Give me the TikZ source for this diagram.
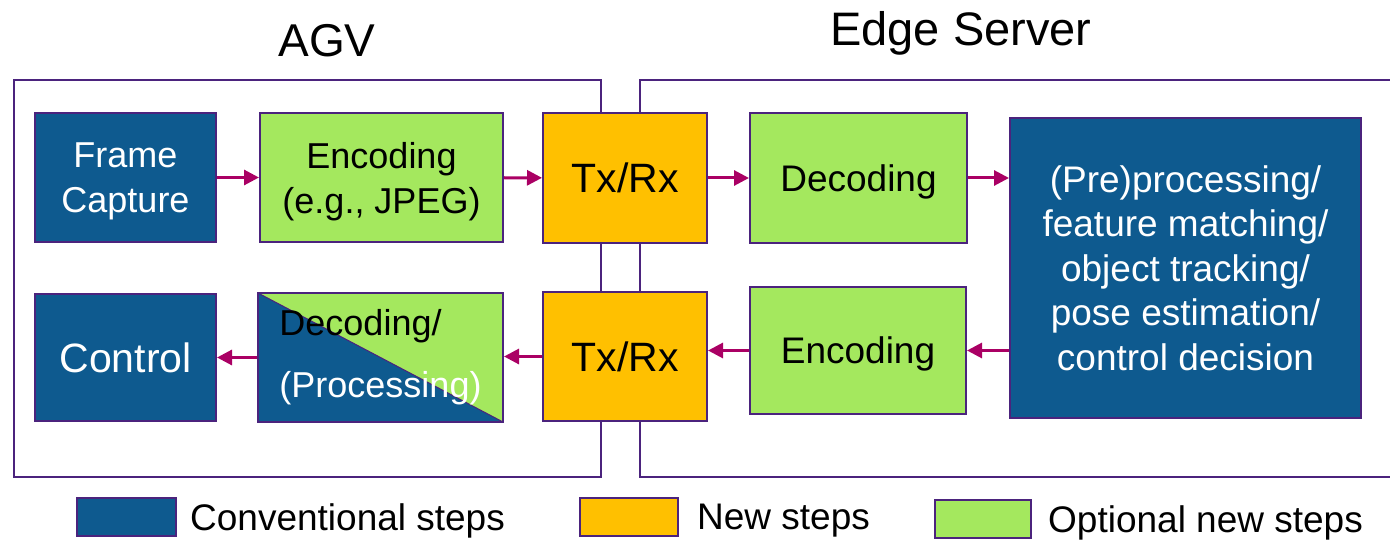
\documentclass[tikz,border=0pt]{standalone}
\usepackage{fontspec}
\setmainfont{Liberation Sans}
\usetikzlibrary{arrows.meta}
\definecolor{convblue}{RGB}{14,90,143}
\definecolor{newyellow}{RGB}{255,192,0}
\definecolor{optgreen}{RGB}{164,232,94}
\definecolor{linepurple}{RGB}{75,35,125}
\definecolor{flowred}{RGB}{170,0,100}
\tikzset{
zone/.style={draw=linepurple, line width=2pt},
stepbox/.style={draw=linepurple, line width=2pt, inner sep=0pt, align=center, text depth=0pt, font=\fontsize{36}{45}\selectfont},
convstep/.style={stepbox, fill=convblue, text=white},
newstep/.style={stepbox, fill=newyellow, text=black, font=\fontsize{41}{48}\selectfont},
optstep/.style={stepbox, fill=optgreen, text=black},
twolines/.style={text depth=-4pt},
boxsize/.style 2 args={minimum width=#1pt, minimum height=#2pt},
flow/.style={draw=flowred, line width=3pt, -{Triangle[length=15pt,width=15pt]}},
legtext/.style={anchor=west, inner sep=0pt, font=\fontsize{37}{44}\selectfont},
split/.style={path picture={
  \fill[convblue] (path picture bounding box.north west) -- (path picture bounding box.south west) -- (path picture bounding box.south east) -- cycle;
  \draw[linepurple, line width=1pt] (path picture bounding box.north west) -- (path picture bounding box.south east);}}
}

\begin{document}
\begin{tikzpicture}[x=1pt, y=-1pt]
\useasboundingbox (0,0) rectangle (1390,540);

\node[anchor=base, font=\fontsize{46}{55}\selectfont] (agvtitle) at (327,57) {AGV};
\node[anchor=base, font=\fontsize{47}{56}\selectfont] (edgetitle) at (961,46) {Edge Server};

\draw[zone] (14,80) rectangle (601,477);
\draw[zone] (1400,80) -- (640,80) -- (640,477) -- (1400,477);

\node[convstep, twolines, boxsize={181}{129}] (capture) at (125.5,177.5) {Frame\\Capture};
\node[optstep, twolines, boxsize={243}{129}] (encode) at (381.5,177.5) {Encoding\\(e.g., JPEG)};
\node[newstep, boxsize={164}{130}] (txrxup) at (625,178) {Tx/Rx};
\node[optstep, boxsize={217}{130}, font=\fontsize{37}{45}\selectfont] (decode) at (858.5,178) {Decoding};
\node[convstep, boxsize={351}{300}, font=\fontsize{37}{44.5}\selectfont] (process) at (1185.5,268) {(Pre)processing/\\feature matching/\\object tracking/\\pose estimation/\\control decision};

\node[convstep, boxsize={181}{127}, font=\fontsize{41}{48}\selectfont] (control) at (125.5,357.5) {Control};
\node[optstep, split, align=left, text depth=, boxsize={245}{129}] (decproc) at (380.5,357.5) {Decoding/\\[17pt]{\color{white}(Processing)}};
\node[newstep, boxsize={164}{129}] (txrxdown) at (625,356.5) {Tx/Rx};
\node[optstep, boxsize={216}{127}, font=\fontsize{37}{45}\selectfont] (encback) at (858,350.5) {Encoding};

\draw[flow] (capture) -- (encode);
\draw[flow] (encode) -- (txrxup);
\draw[flow] (txrxup) -- (decode);
\draw[flow] (decode.east) -- (decode.east -| process.west);
\draw[flow] (process.west |- encback.east) -- (encback.east);
\draw[flow] (encback.west) -- (encback.west -| txrxdown.east);
\draw[flow] (txrxdown.west) -- (txrxdown.west -| decproc.east);
\draw[flow] (decproc) -- (control);

\node[convstep, boxsize={99}{38}] (legconv) at (126,517) {};
\node[legtext] (legconvtext) at (190,521) {Conventional steps};
\node[newstep, boxsize={98}{38}] (legnew) at (629,517) {};
\node[legtext] (legnewtext) at (697,521) {New steps};
\node[optstep, boxsize={96}{38}] (legopt) at (983,519) {};
\node[legtext] (legopttext) at (1048,523) {Optional new steps};
\end{tikzpicture}
\end{document}
